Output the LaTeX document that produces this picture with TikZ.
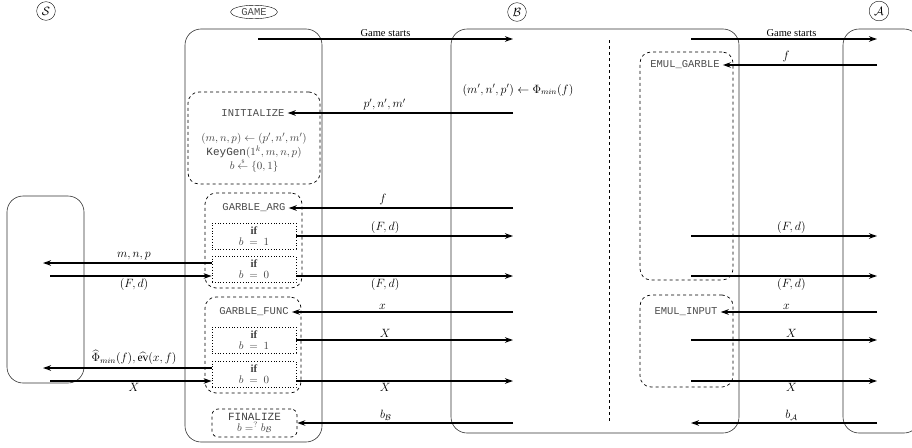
\documentclass[tikz,border=0pt]{standalone}
\usepackage{amsmath,amssymb}
\usepackage{fontspec}
\setmainfont{Liberation Serif}
\setmonofont{Liberation Mono}
\usetikzlibrary{arrows.meta,calc,shapes.geometric}

\begin{document}
\begin{tikzpicture}[x=1pt,y=-1pt,font=\fontsize{11.5}{13}\selectfont,
        msg/.style={line width=1.5pt,-{Stealth[length=8pt,width=5.5pt]}},
        party/.style={draw=black!80,line width=0.6pt,rounded corners=16pt},
        proc/.style={draw,dashed,line width=0.7pt,rounded corners=11pt},
        cond/.style={draw,dotted,line width=0.8pt,minimum width=84pt,minimum height=26pt,
            inner sep=0pt,align=center,text=black!75,font=\fontsize{11}{11}\selectfont},
        call/.style={font=\ttfamily\fontsize{10.5}{12}\selectfont,text=black!70,inner sep=3pt},
        lbl/.style={inner sep=2pt},
        txt/.style={lbl,font=\fontsize{10.5}{12}\selectfont}]
        \useasboundingbox (0,0) rectangle (912,447);
        % parties
        \node[circle,draw,inner sep=2.5pt,font=\fontsize{12}{13}\selectfont](S)at(46,11){$\mathcal{S}$};
        \node[ellipse,draw,inner xsep=4pt,inner ysep=1.2pt,font=\ttfamily\fontsize{10.5}{11}\selectfont,text=black!70](G)at(254,12){GAME};
        \node[circle,draw,inner sep=2.5pt,font=\fontsize{12}{13}\selectfont](B)at(517,12){$\mathcal{B}$};
        \node[circle,draw,inner sep=2.5pt,font=\fontsize{12}{13}\selectfont](A)at(879,11){$\mathcal{A}$};
        \draw[party](7,196)rectangle(84,383);
        \draw[party](185,29)rectangle(322,442);
        \draw[party](451,29)rectangle(739,433);
        \draw[party](843,29)rectangle(920,433);
        \draw[dashed,line width=0.7pt](609,40)to(609,423);
        % game procedures
        \node[proc,minimum width=132pt,minimum height=92pt](initbox)at(254,138){};
        \node[call](init)at(253,113){INITIALIZE};
        \node[align=center,inner sep=0pt,text=black!75,font=\fontsize{11}{10.5}\selectfont](initbody)at(254,153)
            {$(m,n,p)\leftarrow(p',n',m')$\\\texttt{KeyGen}$(1^k,m,n,p)$\\$b\overset{\scriptscriptstyle\$}{\leftarrow}\{0,1\}$};
        \node[proc,minimum width=97pt,minimum height=95pt](argbox)at(253.5,240.5){};
        \node[call](argl)at(254,208){GARBLE\_ARG};
        \node[cond](arg1)at(254,236){\textbf{if}\\$b\ =\ 1$};
        \node[cond](arg0)at(254,269.5){\textbf{if}\\$b\ =\ 0$};
        \node[proc,minimum width=96pt,minimum height=96pt](funcbox)at(253,345){};
        \node[call](funcl)at(254,312){GARBLE\_FUNC};
        \node[cond](func1)at(254,340){\textbf{if}\\$b\ =\ 1$};
        \node[cond](func0)at(254,374.5){\textbf{if}\\$b\ =\ 0$};
        \node[proc,rounded corners=6pt,align=center,inner sep=2pt,minimum width=85pt,minimum height=28pt,
            font=\fontsize{11}{11}\selectfont,text=black!75](fin)at(254.5,423)
            {\texttt{FINALIZE}\\$b=^{?}b_{\mathcal{B}}$};
        % B's procedures
        \node[lbl](phi)at(518,90){$(m',n',p')\leftarrow\Phi_{min}(f)$};
        \node[proc,minimum width=93pt,minimum height=228pt](egbox)at(686.5,166){};
        \node[call](eg)at(685,65){EMUL\_GARBLE};
        \node[proc,minimum width=93pt,minimum height=92pt](eibox)at(686.5,341){};
        \node[call](ei)at(686,312){EMUL\_INPUT};
        % free ends
        \coordinate(g0)at(258,39);
        \coordinate(b0)at(513,39);
        \coordinate(b1)at(513,113);
        \coordinate(b2)at(513,208);
        \coordinate(b3)at(513,236);
        \coordinate(b4)at(513,276);
        \coordinate(b5)at(513,312);
        \coordinate(b6)at(513,340);
        \coordinate(b7)at(513,381);
        \coordinate(b8)at(513,423);
        \coordinate(e0)at(691,39);
        \coordinate(a0)at(877,39);
        \coordinate(a1)at(877,65);
        \coordinate(e2)at(691,236);
        \coordinate(a2)at(877,236);
        \coordinate(e3)at(691,276);
        \coordinate(a3)at(877,276);
        \coordinate(a4)at(877,312);
        \coordinate(e5)at(691,340);
        \coordinate(a5)at(877,340);
        \coordinate(e6)at(691,381);
        \coordinate(a6)at(877,381);
        \coordinate(e7)at(691,423);
        \coordinate(a7)at(877,423);
        \coordinate(s1)at(43,263);
        \coordinate(s2)at(50,276);
        \coordinate(s3)at(43,368);
        \coordinate(s4)at(50,381);
        % game <-> B
        \draw[msg](g0)to node[txt,above,pos=.5]{Game starts}(b0);
        \draw[msg](b1)to node[lbl,above,pos=.57]{$p',n',m'$}(init.east);
        \draw[msg](b2)to node[lbl,above,pos=.58]{$f$}(argl.east);
        \draw[msg](arg1.east)to node[lbl,above,pos=.41]{$(F,d)$}(b3);
        \draw[msg](arg0.east|-b4)to node[lbl,below,pos=.41]{$(F,d)$}(b4);
        \draw[msg](b5)to node[lbl,above,pos=.59]{$x$}(funcl.east);
        \draw[msg](func1.east)to node[lbl,above,pos=.41]{$X$}(b6);
        \draw[msg](func0.east|-b7)to node[lbl,below,pos=.41]{$X$}(b7);
        \draw[msg](b8)to node[lbl,above,pos=.59]{$b_{\mathcal{B}}$}(fin.east);
        % B <-> A
        \draw[msg](e0)to node[txt,above,pos=.54]{Game starts}(a0);
        \draw[msg](a1)to node[lbl,above,pos=.59]{$f$}(eg.east);
        \draw[msg](e2)to node[lbl,above,pos=.54]{$(F,d)$}(a2);
        \draw[msg](e3)to node[lbl,below,pos=.54]{$(F,d)$}(a3);
        \draw[msg](a4)to node[lbl,above,pos=.58]{$x$}(ei.east);
        \draw[msg](e5)to node[lbl,above,pos=.54]{$X$}(a5);
        \draw[msg](e6)to node[lbl,below,pos=.54]{$X$}(a6);
        \draw[msg](a7)to node[lbl,above,pos=.46]{$b_{\mathcal{A}}$}(e7);
        % S <-> game
        \draw[msg](arg0.west|-s1)to node[lbl,above,pos=.46]{$m,n,p$}(s1);
        \draw[msg](s2)to node[lbl,below,pos=.52]{$(F,d)$}(arg0.west|-s2);
        \draw[msg](func0.west|-s3)to node[lbl,above=1pt,pos=.46]{$\widehat{\Phi}_{min}(f),\widehat{\mathrm{ev}}(x,f)$}(s3);
        \draw[msg](s4)to node[lbl,below,pos=.52]{$X$}(func0.west|-s4);
    \end{tikzpicture}
\end{document}
